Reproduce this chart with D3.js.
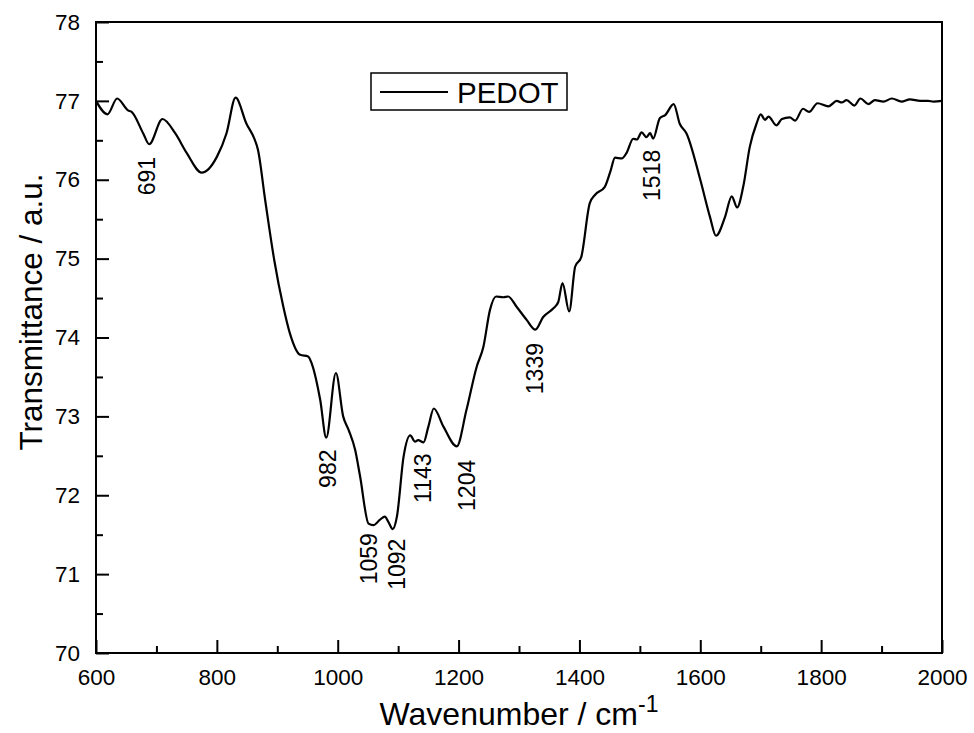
<html>
    <head>
        <title>PEDOT FTIR</title>
        <script src="https://d3js.org/d3.v7.min.js"></script>
        <style>
            body { margin: 0; background: #fff; }
            text { font-family: "Liberation Sans", Arial, sans-serif; fill: #000; }
        </style>
    </head>
    <body>
        <div id="container"></div>

        <script>
            // spectrum
            const wavenumber = [600, 619, 635, 653, 659, 678, 688, 710, 731, 750, 775, 800, 816, 831, 849, 862, 868, 880,
                895, 910, 921, 938, 951, 957, 971, 981, 997, 1009, 1018, 1029, 1037, 1051, 1059, 1070, 1078, 1084, 1091,
                1098, 1109, 1120, 1128, 1133, 1142, 1150, 1159, 1175, 1197, 1213, 1230, 1241, 1252, 1262, 1274, 1282,
                1296, 1313, 1327, 1340, 1357, 1365, 1372, 1383, 1393, 1403, 1417, 1426, 1442, 1451, 1459, 1470, 1478,
                1489, 1495, 1503, 1511, 1517, 1522, 1533, 1542, 1556, 1566, 1577, 1600, 1616, 1626, 1641, 1652, 1661,
                1671, 1682, 1693, 1700, 1707, 1713, 1726, 1735, 1748, 1757, 1770, 1780, 1794, 1812, 1826, 1834, 1842,
                1855, 1865, 1878, 1889, 1903, 1917, 1933, 1947, 1964, 1977, 1986, 2000]
            const transmittance = [77.00, 76.83, 77.03, 76.88, 76.86, 76.59, 76.45, 76.77, 76.59, 76.34, 76.09, 76.29, 76.59, 77.04, 76.71, 76.52, 76.38, 75.74,
                74.98, 74.39, 74.05, 73.78, 73.76, 73.67, 73.21, 72.73, 73.55, 73.00, 72.83, 72.57, 72.24, 71.64, 71.62, 71.69, 71.73, 71.66, 71.57,
                71.73, 72.49, 72.76, 72.68, 72.70, 72.67, 72.87, 73.10, 72.87, 72.62, 73.08, 73.63, 73.88, 74.35, 74.52, 74.51, 74.52,
                74.39, 74.22, 74.10, 74.26, 74.37, 74.45, 74.69, 74.33, 74.90, 75.02, 75.70, 75.81, 75.91, 76.10, 76.28, 76.27, 76.34,
                76.52, 76.51, 76.60, 76.54, 76.59, 76.52, 76.78, 76.82, 76.96, 76.71, 76.59, 76.00, 75.53, 75.29, 75.53, 75.79, 75.65,
                75.91, 76.42, 76.71, 76.83, 76.76, 76.80, 76.69, 76.77, 76.79, 76.75, 76.90, 76.86, 76.97, 76.93, 77.00, 76.98, 77.01,
                76.94, 77.03, 76.96, 77.01, 76.99, 77.03, 76.99, 77.02, 77.00, 77.00, 76.99, 77.00]

            // peak annotations (label, wavenumber, transmittance at top of label)
            const peakLabels = ['691', '982', '1059', '1092', '1143', '1204', '1339', '1518']
            const peakX = [684, 983, 1052, 1098, 1141, 1213, 1326, 1520]
            const peakY = [76.29, 72.58, 71.52, 71.45, 72.53, 72.45, 73.93, 76.38]

            const xTicks = [600, 800, 1000, 1200, 1400, 1600, 1800, 2000]
            const yTicks = [70, 71, 72, 73, 74, 75, 76, 77, 78]

            const dimensions = { width: 974, height: 733 }
            const margin = { top: 22, right: 32, bottom: 80, left: 96 }
            const w = dimensions.width - margin.left - margin.right
            const h = dimensions.height - margin.top - margin.bottom

            const svg = d3.select('#container')
                .append('svg')
                .attr('width', dimensions.width)
                .attr('height', dimensions.height)

            const g = svg.append('g')
                .attr('transform', `translate(${margin.left},${margin.top})`)

            const x = d3.scaleLinear().domain([600, 2000]).range([0, w])
            const y = d3.scaleLinear().domain([70, 78]).range([h, 0])

            // minor ticks
            g.append('g')
                .attr('transform', `translate(0,${h})`)
                .call(d3.axisBottom(x).tickValues(d3.range(700, 2000, 200)).tickSize(-7).tickFormat(''))
            g.append('g')
                .call(d3.axisLeft(y).tickValues(d3.range(70.5, 78, 1)).tickSize(-7).tickFormat(''))

            // major ticks
            g.append('g')
                .attr('transform', `translate(0,${h})`)
                .call(d3.axisBottom(x).tickValues(xTicks).tickSize(-13).tickPadding(16).tickFormat(d3.format('d')))
            g.append('g')
                .call(d3.axisLeft(y).tickValues(yTicks).tickSize(-13).tickPadding(16).tickFormat(d3.format('d')))

            g.selectAll('.domain').remove()
            g.selectAll('.tick line').attr('stroke', '#000').attr('stroke-width', 2)
            g.selectAll('.tick text').style('font-size', '22.5px').style('font-family', '"Liberation Sans", Arial, sans-serif')

            // frame
            g.append('rect')
                .attr('width', w)
                .attr('height', h)
                .attr('fill', 'none')
                .attr('stroke', '#000')
                .attr('stroke-width', 2)

            const line = d3.line()
                .x(i => x(wavenumber[i]))
                .y(i => y(transmittance[i]))
                .curve(d3.curveMonotoneX)

            g.append('path')
                .attr('d', line(d3.range(wavenumber.length)))
                .attr('fill', 'none')
                .attr('stroke', '#000')
                .attr('stroke-width', 2.2)
                .attr('stroke-linejoin', 'round')

            // peak labels, rotated
            g.selectAll('.peak')
                .data(peakLabels)
                .enter()
                .append('text')
                .attr('class', 'peak')
                .attr('transform', (d, i) => `translate(${x(peakX[i])},${y(peakY[i])}) rotate(-90)`)
                .attr('text-anchor', 'end')
                .attr('dy', '0.36em')
                .style('font-size', '23px')
                .text(d => d)

            // legend
            const legend = g.append('g').attr('transform', `translate(${371 - margin.left},${73 - margin.top})`)
            legend.append('rect')
                .attr('width', 196)
                .attr('height', 37)
                .attr('fill', '#fff')
                .attr('stroke', '#000')
                .attr('stroke-width', 1.5)
            legend.append('line')
                .attr('x1', 9).attr('x2', 77)
                .attr('y1', 19).attr('y2', 19)
                .attr('stroke', '#000')
                .attr('stroke-width', 2.2)
            legend.append('text')
                .attr('x', 86)
                .attr('y', 29.5)
                .style('font-size', '29.5px')
                .text('PEDOT')

            // axis titles
            const xt = svg.append('text')
                .attr('x', margin.left + w / 2)
                .attr('y', 725)
                .attr('text-anchor', 'middle')
                .style('font-size', '32px')
            xt.append('tspan').text('Wavenumber / cm')
            xt.append('tspan').attr('dy', -13).style('font-size', '23px').text('-1')

            svg.append('text')
                .attr('transform', 'translate(42,312) rotate(-90)')
                .attr('text-anchor', 'middle')
                .style('font-size', '31.5px')
                .text('Transmittance / a.u.')
        </script>
    </body>
</html>
